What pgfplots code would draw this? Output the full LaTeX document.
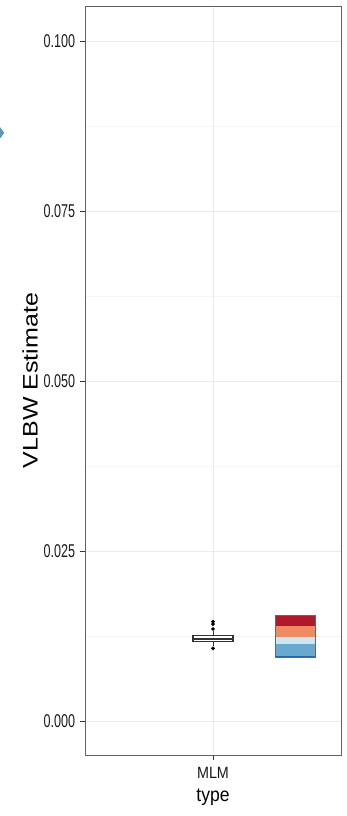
\documentclass[border=0pt]{standalone}
\usepackage{pgfplots}
\pgfplotsset{compat=1.18}
\usepackage{fontspec}
\setmainfont{Liberation Sans}
\definecolor{grey20}{HTML}{333333}
\definecolor{grey30}{HTML}{4D4D4D}
\definecolor{grid92}{HTML}{EBEBEB}
\definecolor{gridmin}{HTML}{F4F4F4}
\definecolor{rd1}{HTML}{B2182B}
\definecolor{rd2}{HTML}{EF8A62}
\definecolor{rd3}{HTML}{D1E5F0}
\definecolor{rd4}{HTML}{67A9CF}
\definecolor{rd5}{HTML}{2166AC}
\begin{document}
\begin{tikzpicture}[x=1pt,y=1pt]
\begin{axis}[
  name=ax,
  scale only axis,
  width=256pt, height=749pt,
  xmin=-0.6, xmax=0.6,
  ymin=-0.005, ymax=0.10515,
  xtick={0}, xticklabels={MLM},
  ytick={0,0.025,0.05,0.075,0.1},
  minor ytick={0.0125,0.0375,0.0625,0.0875},
  yticklabel style={/pgf/number format/fixed,/pgf/number format/precision=3,/pgf/number format/fixed zerofill,
    font=\fontsize{18.5}{18.5}\selectfont, xscale=0.68, text=black!90, inner sep=2pt, xshift=-5pt},
  /pgf/number format/assume math mode=true,
  xticklabel style={font=\fontsize{16.3}{16.3}\selectfont, xscale=0.88, text=black!90, yshift=-4pt},
  scaled y ticks=false,
  tick align=outside,
  tick pos=left,
  major tick length=5pt,
  minor tick length=0pt,
  tick style={grey20, line width=0.7pt},
  axis line style={draw=gray!75!black, line width=0.9pt},
  grid=both,
  major grid style={grid92, line width=0.9pt},
  minor grid style={gridmin, line width=0.5pt},
  xlabel={type},
  xlabel style={font=\fontsize{19.5}{19.5}\selectfont, xscale=0.9, at={(axis description cs:0.5,-0.0627)}, anchor=base, inner sep=0pt},
  ylabel={VLBW Estimate},
  ylabel style={font=\fontsize{25}{25}\selectfont, yscale=0.84, at={(axis description cs:-0.1836,0.5)}, anchor=south, inner sep=0pt},
  clip=false,
]
% stacked colored rectangle
\addplot[fill=rd5, draw=none] coordinates {(0.29,0.00931) (0.48,0.00931) (0.48,0.00956) (0.29,0.00956)} -- cycle;
\addplot[fill=rd4, draw=none] coordinates {(0.29,0.00956) (0.48,0.00956) (0.48,0.01128) (0.29,0.01128)} -- cycle;
\addplot[fill=rd3, draw=none] coordinates {(0.29,0.01128) (0.48,0.01128) (0.48,0.01231) (0.29,0.01231)} -- cycle;
\addplot[fill=rd2, draw=none] coordinates {(0.29,0.01231) (0.48,0.01231) (0.48,0.01401) (0.29,0.01401)} -- cycle;
\addplot[fill=rd1, draw=none] coordinates {(0.29,0.01401) (0.48,0.01401) (0.48,0.01559) (0.29,0.01559)} -- cycle;
\addplot[draw=gray!80!black, line width=0.5pt, fill=none] coordinates {(0.29,0.00931) (0.48,0.00931) (0.48,0.01559) (0.29,0.01559)} -- cycle;
% boxplot (drawn from its statistics)
\addplot[draw=grey20, line width=0.8pt] coordinates {(0,0.01254) (0,0.0132)};
\addplot[draw=grey20, line width=0.8pt] coordinates {(0,0.01166) (0,0.0111)};
\addplot[draw=grey20, fill=white, line width=1.3pt] coordinates {(-0.094,0.01166) (0.094,0.01166) (0.094,0.01254) (-0.094,0.01254)} -- cycle;
\addplot[draw=grey20, line width=1.8pt] coordinates {(-0.094,0.0121) (0.094,0.0121)};
\addplot[only marks, mark=*, mark size=1.7pt, color=black] coordinates {(0,0.0146) (0,0.01426) (0,0.01353) (0,0.01069)};
% diamond at left edge
\addplot[only marks, mark=diamond*, mark size=10pt, color=rd4!85!black, mark options={fill=rd4!90!black}] coordinates {(-1.015,0.0865)};
\end{axis}
\pgfresetboundingbox
\path ([xshift=-85pt,yshift=6pt]ax.north west) rectangle ([xshift=6pt,yshift=-61pt]ax.south east);
\end{tikzpicture}
\end{document}
